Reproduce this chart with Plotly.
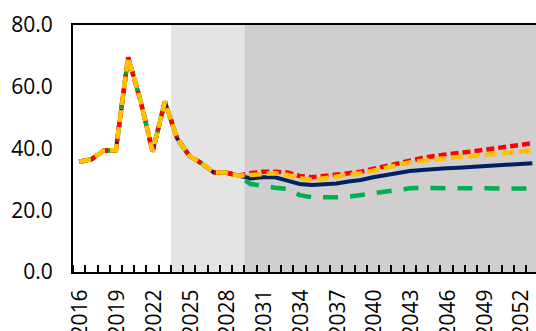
import plotly.graph_objects as go

years = list(range(2016, 2054))
history = [35.7, 36.5, 39.3, 39.5, 69.5, 55.7, 39.0, 55.2, 43.3, 37.6, 35.2, 32.2, 32.2, 31.2]

blue_proj = [30.3, 30.7, 30.7, 29.6, 28.5, 28.2, 28.3, 28.7, 29.3, 29.8, 30.7, 31.4, 32.1, 32.7,
             33.0, 33.4, 33.6, 33.8, 34.1, 34.3, 34.5, 34.8, 35.0, 35.2]
red_proj = [32.0, 32.5, 32.5, 32.2, 31.1, 30.7, 31.1, 31.4, 32.0, 32.5, 33.4, 34.3, 35.3, 36.3,
            36.9, 37.6, 38.2, 38.6, 39.0, 39.5, 39.9, 40.4, 40.9, 41.7]
yellow_proj = [31.4, 31.7, 32.0, 31.4, 30.4, 29.8, 30.3, 30.9, 31.4, 32.0, 32.8, 33.7, 34.6, 35.5,
               36.0, 36.5, 37.0, 37.3, 37.6, 37.9, 38.3, 38.6, 39.0, 39.3]
green_proj = [28.5, 27.8, 27.3, 26.9, 24.9, 24.2, 24.1, 24.2, 24.4, 24.9, 25.6, 26.2, 26.6, 27.1,
              27.2, 27.2, 27.2, 27.2, 27.1, 27.1, 27.1, 27.0, 27.0, 27.0]

blue = history + blue_proj
red = history + red_proj
yellow = history + yellow_proj
green = history + green_proj

label_years = list(range(2016, 2054, 3))
y_ticks = [0, 20, 40, 60, 80]
y_labels = ["0.0", "20.0", "40.0", "60.0", "80.0"]

label_shift = 0.12  # small visual nudge of rotated labels, as in the original

fig = go.Figure()
fig.add_trace(go.Scatter(x=years, y=blue, mode="lines", line=dict(color="#002060", width=4)))
fig.add_trace(go.Scatter(x=years, y=green, mode="lines", line=dict(color="#00B050", width=4.5, dash="15px,12px")))
fig.add_trace(go.Scatter(x=years, y=red, mode="lines", line=dict(color="#FF0000", width=4.5, dash="8px,4px")))
fig.add_trace(go.Scatter(x=years, y=yellow, mode="lines", line=dict(color="#FFC000", width=4.5, dash="12px,5px")))

fig.add_shape(type="rect", xref="x", yref="paper", x0=2023.5, x1=2029.5, y0=0, y1=1,
              fillcolor="#E4E4E4", line_width=0, layer="below")
fig.add_shape(type="rect", xref="x", yref="paper", x0=2029.5, x1=2054, y0=0, y1=1,
              fillcolor="#D0CECE", line_width=0, layer="below")

fig.update_layout(
    width=536, height=331,
    margin=dict(l=73, r=0, t=25, b=59),
    paper_bgcolor="white", plot_bgcolor="white",
    showlegend=False,
    font=dict(family="Open Sans", size=21, color="#000000"),
)
fig.update_xaxes(
    range=[2015.5, 2053.3], tickvals=[y + label_shift for y in label_years],
    ticktext=[str(y) for y in label_years],
    tickangle=-90, ticks="", showgrid=False, zeroline=False, automargin=False,
    showline=True, linecolor="black", linewidth=2, mirror=True,
    ticklabelstandoff=7,
    minor=dict(tick0=2015.5, dtick=1, ticks="inside", ticklen=7, tickcolor="black", tickwidth=1.5, showgrid=False),
)
fig.update_yaxes(
    range=[0, 80], tickvals=y_ticks, ticktext=y_labels, ticks="", showgrid=False, zeroline=False,
    automargin=False, showline=True, linecolor="black", linewidth=2, ticklabelstandoff=14,
)

fig.write_html(
    "out.html",
    config={"displayModeBar": False},
    post_script="document.body.style.margin='0';document.body.style.overflow='hidden';",
)
